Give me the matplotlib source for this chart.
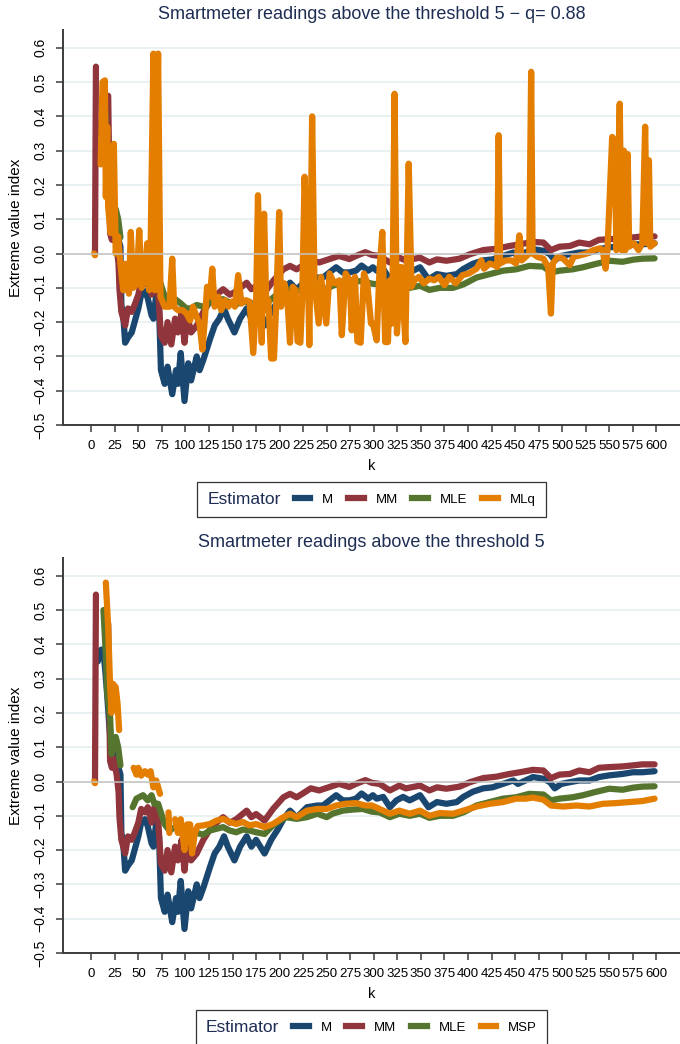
import numpy as np
import matplotlib
matplotlib.use("Agg")
from matplotlib import pyplot as plt
from matplotlib.lines import Line2D
from matplotlib.offsetbox import HPacker

plt.rcParams['font.family'] = ['Liberation Sans', 'DejaVu Sans']

nan = np.nan

# estimator paths, (k, estimate)
m_pts = [(7, 0.35), (9, 0.38), (11, 0.385), (13, 0.38), (15, 0.32), (17, 0.25), (19, 0.17),
         (21, 0.10), (23, 0.07), (25, 0.10), (27, 0.08), (29, 0.04), (31, 0.02), (32, -0.15),
         (34, -0.18), (36, -0.26), (39, -0.245), (43, -0.23), (46, -0.20), (50, -0.16),
         (53, -0.12), (57, -0.11), (60, -0.13), (64, -0.18), (66, -0.19), (69, -0.12),
         (72, -0.16), (74, -0.34), (78, -0.38), (81, -0.33), (86, -0.41), (90, -0.34),
         (92, -0.38), (95, -0.29), (99, -0.43), (103, -0.32), (106, -0.37), (112, -0.30),
         (115, -0.34), (119, -0.31), (126, -0.25), (131, -0.21), (136, -0.19), (141, -0.16),
         (145, -0.19), (152, -0.23), (158, -0.19), (165, -0.16), (170, -0.19), (175, -0.17),
         (184, -0.21), (191, -0.17), (198, -0.14), (204, -0.11), (211, -0.085), (218, -0.105),
         (229, -0.075), (240, -0.07), (246, -0.07), (253, -0.055), (260, -0.04), (267, -0.055),
         (274, -0.055), (281, -0.05), (287, -0.035), (294, -0.05), (299, -0.04), (303, -0.05),
         (310, -0.045), (317, -0.075), (324, -0.055), (331, -0.045), (338, -0.055), (349, -0.04),
         (358, -0.075), (367, -0.06), (377, -0.065), (388, -0.06), (395, -0.045), (405, -0.03),
         (416, -0.02), (426, -0.017), (437, -0.007), (448, 0.003), (453, -0.007), (461, 0.003),
         (469, 0.013), (480, 0.008), (487, -0.002), (492, -0.02), (499, -0.007), (508, -0.002),
         (518, 0.003), (529, 0.003), (539, 0.013), (550, 0.018), (564, 0.022), (575, 0.027),
         (585, 0.027), (598, 0.03)]

mm_pts = [(4, 0.0), (5, 0.545), (6, nan), (18, 0.46), (20, 0.06), (22, 0.04), (23, 0.07),
          (25, 0.05), (27, 0.02), (29, -0.03), (30, -0.105), (32, -0.17), (36, -0.21),
          (39, -0.16), (43, -0.17), (46, -0.15), (50, -0.12), (53, -0.08), (57, -0.09),
          (60, -0.075), (64, -0.12), (67, -0.075), (71, -0.11), (74, -0.24), (78, -0.26),
          (81, -0.20), (85, -0.265), (89, -0.19), (92, -0.23), (96, -0.17), (99, -0.26),
          (102, -0.18), (106, -0.23), (112, -0.21), (119, -0.17), (126, -0.14), (133, -0.12),
          (140, -0.104), (147, -0.12), (154, -0.11), (165, -0.085), (170, -0.104), (175, -0.095),
          (184, -0.114), (193, -0.08), (204, -0.046), (211, -0.036), (218, -0.046), (224, -0.036),
          (233, -0.02), (242, -0.026), (253, -0.016), (263, -0.007), (274, -0.016), (281, -0.007),
          (291, 0.004), (298, -0.004), (306, -0.007), (317, -0.026), (327, -0.012), (334, -0.02),
          (349, -0.012), (359, -0.026), (367, -0.017), (377, -0.021), (391, -0.015), (402, -0.002),
          (416, 0.01), (430, 0.014), (444, 0.022), (455, 0.027), (469, 0.034), (480, 0.032),
          (488, 0.01), (497, 0.02), (508, 0.022), (518, 0.032), (529, 0.027), (539, 0.04),
          (550, 0.042), (564, 0.044), (575, 0.047), (585, 0.05), (598, 0.05)]

mle_pts = [(13, 0.50), (15.5, 0.37), (17, 0.255), (20, 0.19), (21.6, 0.08), (23.3, 0.10),
           (26, 0.13), (28.6, 0.10), (31, 0.047), (32, nan), (44, -0.075), (48, -0.05),
           (55, -0.04), (60, -0.055), (64, -0.04), (67, -0.065), (71, -0.065), (74.5, -0.095),
           (78, -0.125), (83, -0.143), (89, -0.133), (94, -0.143), (101, -0.16), (106, -0.16),
           (112, -0.15), (119, -0.155), (126, -0.143), (133, -0.138), (140, -0.133), (147, -0.143),
           (154, -0.148), (161, -0.14), (168, -0.143), (175, -0.148), (184, -0.153), (191, -0.133),
           (198, -0.118), (207, -0.104), (218, -0.109), (229, -0.104), (240, -0.094), (250, -0.104),
           (256, -0.094), (267, -0.085), (277, -0.082), (288, -0.08), (298, -0.088), (306, -0.09),
           (317, -0.104), (327, -0.094), (338, -0.10), (349, -0.094), (359, -0.106), (370, -0.10),
           (384, -0.10), (395, -0.09), (409, -0.07), (423, -0.06), (437, -0.05), (451, -0.046),
           (465, -0.036), (480, -0.038), (488, -0.055), (497, -0.05), (511, -0.046), (522, -0.04),
           (536, -0.03), (550, -0.021), (564, -0.024), (575, -0.018), (585, -0.015), (598, -0.014)]

mlq_pts = [(3, 0.0), (4, -0.005), (5, nan), (10, 0.26), (12, 0.50), (14.5, 0.505), (15.5, 0.165),
           (17, 0.37), (18, 0.136), (20.5, 0.06), (22.6, 0.165), (24, 0.32), (26, 0.0), (28.6, 0.05),
           (31, -0.03), (34, -0.107), (36, -0.03), (38, -0.06), (40, -0.117), (42, 0.063),
           (44.5, -0.10), (48, -0.09), (51, 0.068), (53.5, -0.10), (57, -0.068), (59.4, 0.03),
           (61.5, -0.107), (63, 0.01), (66, 0.583), (67.5, -0.107), (71, 0.583), (73.5, -0.126),
           (78, -0.155), (83, -0.155), (86, -0.015), (88, -0.155), (92, -0.165), (97, -0.165),
           (101, -0.175), (105, -0.195), (108, -0.155), (112, -0.185), (115, -0.205), (118, -0.28),
           (120.5, -0.195), (123, -0.097), (126, -0.126), (128.5, -0.044), (131, -0.155),
           (135, -0.126), (138, -0.165), (142, -0.136), (145.5, -0.155), (149, -0.14),
           (152.5, -0.155), (156, -0.063), (159.5, -0.146), (164, -0.136), (168, -0.14),
           (172, -0.29), (175, -0.146), (177, 0.17), (179.5, -0.126), (181, -0.26), (183.5, 0.116),
           (186, -0.165), (188, -0.136), (191, -0.306), (194, -0.306), (196.5, -0.136),
           (199.5, 0.121), (201.5, -0.155), (205, -0.087), (208, -0.126), (211, -0.26),
           (214, -0.097), (217, -0.107), (219, -0.256), (222, -0.26), (224, -0.126), (226.5, 0.224),
           (230, -0.058), (231.5, -0.267), (234.5, 0.40), (237, -0.087), (241.5, -0.204),
           (244, -0.068), (249.5, -0.204), (253, -0.058), (258, -0.087), (263.5, -0.078),
           (266, -0.238), (270, -0.058), (274.5, -0.078), (276.5, -0.224), (280, -0.068),
           (282.5, -0.256), (286, -0.26), (289.5, -0.058), (293, -0.087), (297, -0.204),
           (299, -0.204), (303, -0.253), (306, -0.049), (309, 0.063), (312, -0.258), (315, -0.258),
           (317, -0.078), (319.5, -0.204), (322, 0.466), (324.5, -0.233), (329, -0.039),
           (333.5, -0.258), (337, 0.262), (340, -0.097), (343, -0.078), (348, -0.068),
           (353, -0.087), (359, -0.073), (364, -0.078), (369, -0.068), (375, -0.092), (380, -0.068),
           (387, -0.087), (394, -0.063), (401, -0.058), (409, -0.044), (414, -0.02), (417, -0.044),
           (423, -0.029), (428, -0.034), (431, -0.039), (432.5, 0.345), (434, -0.029), (440, -0.02),
           (446, -0.02), (451, -0.029), (454.5, 0.053), (457, -0.02), (461, -0.01), (465, 0.0),
           (467, 0.53), (468.5, 0.0), (474, -0.01), (480, -0.015), (485, -0.039), (488, -0.175),
           (490, -0.029), (495, -0.01), (501, -0.015), (508, -0.034), (512, -0.01), (519, -0.005),
           (526, 0.0), (533, 0.01), (540, 0.015), (543, 0.01), (546, -0.044), (548, 0.01),
           (553, 0.34), (555.5, 0.33), (557.5, 0.01), (561, 0.437), (563, 0.01), (565.5, 0.30),
           (567, 0.01), (569.5, 0.29), (571, 0.02), (576, 0.03), (581, 0.01), (585, 0.03),
           (588, 0.37), (590, 0.03), (592, 0.272), (593.5, 0.02), (598, 0.03)]

msp_pts = [(3, 0.0), (4, -0.005), (5, nan), (15.5, 0.58), (18, 0.45), (20, 0.28), (21.6, 0.20),
           (23, 0.285), (26, 0.275), (28, 0.225), (29.6, 0.15), (30, nan), (45, 0.04), (48, 0.02),
           (50, 0.04), (53, 0.017), (57, 0.03), (60, 0.02), (63, 0.03), (66, -0.017), (69, 0.003),
           (73, -0.036), (74, nan), (82, -0.09), (83, -0.15), (84, nan), (89, -0.11), (92, -0.15),
           (95, -0.11), (99, -0.20), (102, -0.125), (105, -0.125), (107, -0.21), (110, -0.15),
           (113, -0.13), (119, -0.128), (126, -0.124), (133, -0.114), (140, -0.109), (147, -0.118),
           (154, -0.124), (161, -0.118), (168, -0.128), (175, -0.124), (184, -0.133), (193, -0.124),
           (204, -0.104), (211, -0.094), (218, -0.104), (229, -0.085), (240, -0.08), (250, -0.08),
           (260, -0.07), (270, -0.065), (281, -0.063), (291, -0.07), (298, -0.07), (306, -0.08),
           (317, -0.094), (327, -0.085), (338, -0.094), (349, -0.085), (359, -0.10), (370, -0.092),
           (384, -0.094), (395, -0.085), (409, -0.073), (423, -0.065), (437, -0.06), (451, -0.05),
           (461, -0.05), (469, -0.047), (480, -0.053), (488, -0.07), (501, -0.073), (515, -0.07),
           (529, -0.073), (543, -0.065), (557, -0.063), (571, -0.06), (585, -0.057), (598, -0.05)]

titles = ["Smartmeter readings above the threshold 5 \u2212 q= 0.88",
          "Smartmeter readings above the threshold 5"]
labels_top = ["M", "MM", "MLE", "MLq"]
labels_bot = ["M", "MM", "MLE", "MSP"]
x_ticks = list(range(0, 601, 25))
y_ticks = [-0.5, -0.4, -0.3, -0.2, -0.1, 0.0, 0.1, 0.2, 0.3, 0.4, 0.5, 0.6]

colors = ["#1a476f", "#90353b", "#55752f", "#e37e00"]
navy = "#1e2d53"
grid_c = "#e6eff1"
spine_c = "#3c3c3c"


def side_title(leg):
    # put the legend title left of the keys, like Stata does
    box = leg._legend_box
    hp = HPacker(pad=box.pad, sep=10, align="center", children=box.get_children())
    hp.set_figure(leg.figure)
    hp.axes = leg.axes
    hp.set_offset(leg._findoffset)
    leg._legend_box = hp


def panel(ax, series, labels, title):
    for yt in y_ticks:
        ax.axhline(yt, color=grid_c, lw=1.2, zorder=0)
    for pts, c in zip(series, colors):
        k, v = np.array(pts).T
        ax.plot(k, v, color=c, lw=4.5, solid_capstyle='round', solid_joinstyle='round', zorder=2)
    ax.axhline(0, color="#c4c4c4", lw=1.1, zorder=3)

    ax.set_xlim(-30, 625)
    ax.set_ylim(-0.5, 0.652)
    ax.set_xticks(x_ticks)
    ax.set_xticklabels([str(t) for t in x_ticks], fontsize=9.5)
    ax.set_yticks(y_ticks)
    ax.set_yticklabels([f"{t:.1f}".replace("-", "\u2212") for t in y_ticks],
                       rotation=90, va="center", fontsize=10)
    ax.tick_params(axis="both", direction="out", length=5, width=1.1, color=spine_c, pad=6)
    for s in ["top", "right"]:
        ax.spines[s].set_visible(False)
    for s in ["left", "bottom"]:
        ax.spines[s].set_color(spine_c)
        ax.spines[s].set_linewidth(1.4)
    ax.set_xlabel("k", fontsize=10.5, labelpad=5)
    ax.set_ylabel("Extreme value index", fontsize=11, labelpad=8)
    ax.set_title(title, color=navy, fontsize=13, pad=8)

    handles = [Line2D([], [], color=c, lw=4.5) for c in colors]
    leg = ax.legend(handles, labels, title="Estimator", ncol=4, loc="upper center",
                    bbox_to_anchor=(0.5, -0.128), frameon=True, fancybox=False,
                    edgecolor="black", fontsize=9.5, title_fontsize=12.5,
                    handlelength=1.2, handletextpad=0.9, columnspacing=1.1, borderpad=0.75)
    leg.get_title().set_color(navy)
    leg.get_frame().set_linewidth(0.9)
    side_title(leg)


fig = plt.figure(figsize=(6.8, 10.44), dpi=100)
ax1 = fig.add_axes([0.0926, 0.5929, 0.9074, 0.3784])
ax2 = fig.add_axes([0.0926, 0.0872, 0.9074, 0.3784])

panel(ax1, [m_pts, mm_pts, mle_pts, mlq_pts], labels_top, titles[0])
panel(ax2, [m_pts, mm_pts, mle_pts, msp_pts], labels_bot, titles[1])

fig.savefig("out.png", dpi=100)
